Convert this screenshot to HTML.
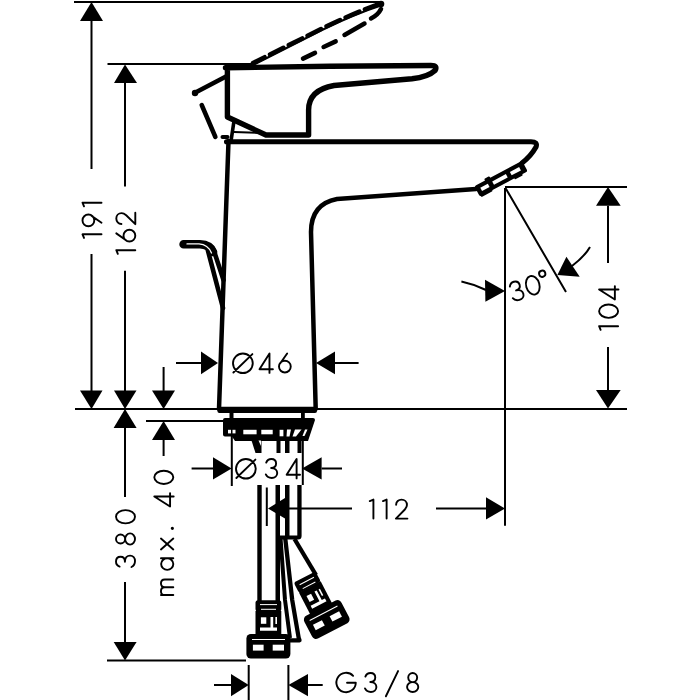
<!DOCTYPE html>
<html><head><meta charset="utf-8"><style>
html,body{margin:0;padding:0;background:#fff;width:700px;height:700px;overflow:hidden;font-family:"Liberation Sans",sans-serif}
svg{display:block}
</style></head><body>
<svg width="700" height="700" viewBox="0 0 700 700">
<g stroke="#000" stroke-width="2" fill="none">
  <path d="M74 2H381 M91.5 21V169 M91.5 254V391"/>
  <path d="M107.5 64H255 M125 83V186.4 M125 270.7V391"/>
  <path d="M75 409H627"/>
  <path d="M125 428V497 M125 582V642 M107 660.5H246"/>
  <path d="M163.6 367V391 M163.6 440V456 M146 421H223"/>
  <path d="M176 363H201 M335 363H358.6"/>
  <path d="M231.8 436V486 M302.8 440V485 M191.6 468.4H213 M321.6 468.4H342"/>
  <path d="M266.8 487.5V526 M285 508.5H352 M436 508.5H486 M505 188V525.7"/>
  <path d="M505 187H627 M608 205.7V263 M608 347V390"/>
  <path d="M505.5 188L566 292 M590 247Q585 256 572 266 M461.4 281.4Q474 284 486 290"/>
  <path d="M248.7 665V700 M288.4 665V700 M214 685H231 M308 685H322.7"/>
</g>
<g fill="#000">
  <polygon points="91.5,2 80,21 103,21"/>
  <polygon points="91.5,409 80,390.5 102.5,390.5"/>
  <polygon points="125,64.5 114,83 137,83"/>
  <polygon points="125,409 114,390.5 136.5,390.5"/>
  <polygon points="125,409 113.6,428 136.6,428"/>
  <polygon points="125,660.5 113.7,642 136.6,642"/>
  <polygon points="163.6,409 152,390.5 175,390.5"/>
  <polygon points="163.6,421 152,440 175,440"/>
  <polygon points="218,363 201,351.4 201,374.3"/>
  <polygon points="316,363 335,351.4 335,374.3"/>
  <polygon points="231.6,468.4 213,457.2 213,479.5"/>
  <polygon points="302,468.4 321.6,457.2 321.6,479.5"/>
  <polygon points="268,508.5 285,498 285,518.6"/>
  <polygon points="505,508.5 486,497.3 486,519.5"/>
  <polygon points="608,187 596,205.7 620.7,205.7"/>
  <polygon points="608,408.6 596,390 620.7,390"/>
  <polygon points="248.7,685 231,674 231,696.3"/>
  <polygon points="288.4,685 308,674 308,696.3"/>
  <polygon points="505,291 485,279.7 485.4,301.8"/>
  <polygon points="557.4,275 566.4,256.8 579.7,276.7"/>
</g>
<g fill="none" stroke="#000" stroke-linecap="round" stroke-linejoin="round">
<g transform="translate(233 353.5) scale(0.95 0.95)" stroke-width="2.0"><path transform="translate(0 0)" d="M10.4 0A10.4 10.3 0 1 0 10.4 20.6A10.4 10.3 0 1 0 10.4 0M0.4 20L20.4 0.6"/><path transform="translate(27.6 0)" d="M10.8 20.4V0L0.3 16.6H14.4"/><path transform="translate(48.4 0)" d="M8.6 0L1.2 10.6M0 13.8A6.2 6.2 0 1 0 12.4 13.8A6.2 6.2 0 1 0 0 13.8"/></g>
<g transform="translate(236 459) scale(0.95 0.95)" stroke-width="2.0"><path transform="translate(0 0)" d="M10.4 0A10.4 10.3 0 1 0 10.4 20.6A10.4 10.3 0 1 0 10.4 0M0.4 20L20.4 0.6"/><path transform="translate(31.4 0)" d="M0.4 3.8C1.3 1.5 3.3 0 5.8 0C8.8 0 10.8 2 10.8 4.8C10.8 7.6 8.6 9.4 5.6 9.4C9.5 9.4 12 11.8 12 14.8C12 17.9 9.5 20 6.2 20C3.3 20 1.0 18.6 0 16.3"/><path transform="translate(53 0)" d="M10.8 20.4V0L0.3 16.6H14.4"/></g>
<g transform="translate(369.8 499.6) scale(0.95 0.95)" stroke-width="2.0"><path transform="translate(0 0)" d="M0 1.6L3.8 0V20"/><path transform="translate(13.9 0)" d="M0 1.6L3.8 0V20"/><path transform="translate(27.1 0)" d="M0.6 5.4C0.6 2.2 3.2 0 6.3 0C9.6 0 12 2.4 12 5.6C12 7.6 11 9 9.8 10.4L0.4 20H12.5"/></g>
<g transform="translate(336.4 673) scale(0.95 0.95)" stroke-width="2.0"><path transform="translate(0 0)" d="M17.6 3A10.2 10.2 0 1 0 20.4 10.2H11.2"/><path transform="translate(30.1 0)" d="M0.4 3.8C1.3 1.5 3.3 0 5.8 0C8.8 0 10.8 2 10.8 4.8C10.8 7.6 8.6 9.4 5.6 9.4C9.5 9.4 12 11.8 12 14.8C12 17.9 9.5 20 6.2 20C3.3 20 1.0 18.6 0 16.3"/><path transform="translate(52.1 0)" d="M0 24.5L12.8 -2"/><path transform="translate(74.3 0)" d="M6 0A4.7 4.8 0 1 0 6 9.6A4.7 4.8 0 1 0 6 0M6 9.6A5.9 5.2 0 1 0 6 20A5.9 5.2 0 1 0 6 9.6"/></g>
<g transform="translate(82.5 237.9) rotate(-90) scale(0.95 0.95)" stroke-width="2.0"><path transform="translate(0 0)" d="M0 1.6L3.8 0V20"/><path transform="translate(12.2 0)" d="M3.8 20L11.2 9.4M12.4 6.2A6.2 6.2 0 1 0 0 6.2A6.2 6.2 0 1 0 12.4 6.2"/><path transform="translate(33.2 0)" d="M0 1.6L3.8 0V20"/></g>
<g transform="translate(116.3 253.8) rotate(-90) scale(0.95 0.95)" stroke-width="2.0"><path transform="translate(0 0)" d="M0 1.6L3.8 0V20"/><path transform="translate(12.9 0)" d="M8.6 0L1.2 10.6M0 13.8A6.2 6.2 0 1 0 12.4 13.8A6.2 6.2 0 1 0 0 13.8"/><path transform="translate(30.8 0)" d="M0.6 5.4C0.6 2.2 3.2 0 6.3 0C9.6 0 12 2.4 12 5.6C12 7.6 11 9 9.8 10.4L0.4 20H12.5"/></g>
<g transform="translate(599.1 329.8) rotate(-90) scale(0.95 0.95)" stroke-width="2.0"><path transform="translate(0 0)" d="M0 1.6L3.8 0V20"/><path transform="translate(12.6 0)" d="M7 0A7 10 0 1 0 7 20A7 10 0 1 0 7 0"/><path transform="translate(31.6 0)" d="M10.8 20.4V0L0.3 16.6H14.4"/></g>
<g transform="translate(116 567) rotate(-90) scale(0.95 0.95)" stroke-width="2.0"><path transform="translate(0 0)" d="M0.4 3.8C1.3 1.5 3.3 0 5.8 0C8.8 0 10.8 2 10.8 4.8C10.8 7.6 8.6 9.4 5.6 9.4C9.5 9.4 12 11.8 12 14.8C12 17.9 9.5 20 6.2 20C3.3 20 1.0 18.6 0 16.3"/><path transform="translate(23.5 0)" d="M6 0A4.7 4.8 0 1 0 6 9.6A4.7 4.8 0 1 0 6 0M6 9.6A5.9 5.2 0 1 0 6 20A5.9 5.2 0 1 0 6 9.6"/><path transform="translate(45.9 0)" d="M7 0A7 10 0 1 0 7 20A7 10 0 1 0 7 0"/></g>
<g transform="translate(154.3 596) rotate(-90) scale(0.95 0.95)" stroke-width="2.0"><path transform="translate(0 0)" d="M1 20V7M1 11C1 8.5 2.9 7 5.1 7C7.5 7 9.2 8.5 9.2 11V20M9.2 11C9.2 8.5 11.1 7 13.3 7C15.7 7 17.4 8.5 17.4 11V20"/><path transform="translate(27.4 0)" d="M12.4 7V20M6.2 7.2A6.1 6.4 0 1 0 6.2 20A6.1 6.4 0 1 0 6.2 7.2"/><path transform="translate(48.5 0)" d="M0.5 7L12 20M12 7L0.5 20"/><path transform="translate(70.2 0)" d="M1 18.3A0.7 0.7 0 1 0 1 19.7A0.7 0.7 0 1 0 1 18.3"/><path transform="translate(93.9 0)" d="M10.8 20.4V0L0.3 16.6H14.4"/><path transform="translate(117.9 0)" d="M7 0A7 10 0 1 0 7 20A7 10 0 1 0 7 0"/></g>
<g transform="translate(508.5 283.3) rotate(-16) scale(0.95 0.95)" stroke-width="2.0"><path transform="translate(0 0)" d="M0.4 3.8C1.3 1.5 3.3 0 5.8 0C8.8 0 10.8 2 10.8 4.8C10.8 7.6 8.6 9.4 5.6 9.4C9.5 9.4 12 11.8 12 14.8C12 17.9 9.5 20 6.2 20C3.3 20 1.0 18.6 0 16.3"/><path transform="translate(17.0 -0.9)" d="M7 0A7 10 0 1 0 7 20A7 10 0 1 0 7 0"/><path transform="translate(33.5 -1.0)" d="M3.4 -2.2A3.3 3.3 0 1 0 3.4 4.4A3.3 3.3 0 1 0 3.4 -2.2"/></g>
</g>
<g stroke="#000" stroke-width="4.5" fill="none" stroke-linejoin="round" stroke-linecap="round">
  <!-- body -->
  <path d="M228.5 141L219 409"/>
  <path d="M226.5 141.7H531Q538 141.7 536 147Q531 156 522 163" stroke-width="5.1"/>
  <path d="M476 189L337 199Q311 204 311 232L315.7 409"/>
  <!-- lever -->
  <path d="M225.5 67.8L330 66.3L431 65.5Q438 65.5 435 70.5Q428 77 412 78.8L334 85.5Q308.6 90 308.6 110V135H266L227.4 117V67.8" stroke-width="5.4"/>
  <path d="M234 121L231 141" stroke-width="3.6"/>
  <path d="M234 132L262 133" stroke-width="2"/>
  <!-- lever dashed positions -->
  <path d="M222.5 137H227.5" stroke-width="4"/>
  <path d="M215.4 137L201.7 105"/>
  <path d="M194.5 93L226 76.5"/>
  <circle cx="195" cy="93" r="3.2" fill="#000" stroke="none"/>
  <path d="M254 64.5L322 30Q356 13.5 381 5.5" stroke-width="2.2"/>
  <path d="M253 63L322 28.5Q356 12 381 3.5" stroke-dasharray="15 6" stroke-dashoffset="2" stroke-width="4.5"/>
  <circle cx="381" cy="4" r="3.3" fill="#000" stroke="none"/>
  <path d="M381 9Q378 15 371 18.5 M364.5 23.5L344.5 35 M335.7 41.4L323.6 47 M315 52.9L303 58.6" stroke-width="4.5"/>
  <!-- popup rod -->
  <path d="M183.6 244.2H200Q210 244.5 213 252" stroke-width="8.6"/>
  <path d="M207.5 249L223 308" stroke-width="4.6"/>
  <path d="M211 246.5Q214 249 215 254L223.5 280" stroke-width="4.6"/>
  <path d="M187 243.9H199Q208 244.5 211.5 253" stroke="#fff" stroke-width="1.3"/>
</g>
<!-- aerator -->
<g transform="translate(501 178.75) rotate(-28)">
  <rect x="-27" y="-6" width="54" height="12" rx="2" fill="#000"/>
  <rect x="-15" y="-7.8" width="6" height="3" rx="1" fill="#000"/>
  <rect x="-26" y="4" width="13" height="3" rx="1" fill="#000"/>
  <rect x="12" y="4" width="9" height="3.3" rx="1" fill="#000"/>
  <rect x="-22.5" y="-1.8" width="8.5" height="3.8" fill="#fff"/>
  <rect x="-9" y="-1.8" width="15.5" height="3.8" fill="#fff"/>
  <rect x="11" y="-1.8" width="10.5" height="3.8" fill="#fff"/>
</g>
<!-- base band + nut -->
<g fill="#000">
  <path d="M217.4 406.7H317V411Q317 413 315 413H219.4Q217.4 413 217.4 411Z"/>
  <rect x="229.5" y="412" width="4" height="7"/>
  <rect x="301" y="412" width="3.8" height="7"/>
  <path d="M223 420Q223 418 225 418H313Q315 418 315 420L308 441H235L232 436.5H225Q223 436.5 223 434.5Z"/>
</g>
<g fill="#fff">
  <rect x="228" y="429.8" width="3" height="3.6"/>
  <rect x="232.5" y="429.8" width="3" height="3.6"/>
  <rect x="243.3" y="429.8" width="13.3" height="4.5"/>
  <rect x="261.3" y="429.8" width="11.4" height="4.5"/>
  <rect x="279.6" y="429.8" width="3.8" height="6.5"/>
  <polygon points="287,429.5 291,429.5 289.5,436.5 286.5,436.5"/>
  <polygon points="295,429.5 301.5,429.5 296,436.5 292.5,436.5"/>
  <polygon points="305,429.5 307.5,429.5 304.5,436 302.5,436"/>
</g>
<!-- legs / hoses -->
<g fill="#000">
  <polygon points="251,439 261.5,439 261.5,453 255.5,453"/>
  <rect x="276.5" y="439" width="4" height="14"/>
  <rect x="285" y="439" width="4.5" height="14"/>
  <rect x="297.5" y="439" width="4" height="14"/>
  <rect x="257.3" y="485" width="4.4" height="116"/>
  <rect x="275.5" y="485" width="4.5" height="116"/>
  <rect x="285" y="485" width="4.5" height="53"/>
  <path d="M297.3 485H301.6V536Q301.6 539.6 298 539.6H280V535.6H297.3Z"/>
</g>
<g fill="none" stroke="#000" stroke-linejoin="round">
  <path d="M280.5 538L285 600L290 638" stroke-width="4"/>
  <path d="M285.2 538L292.2 600L298.7 638L299.5 640.3H290" stroke-width="4.3"/>
  <path d="M294.5 539L316 575" stroke-width="4.3"/>
</g>
<g fill="#fff"><polygon points="258.5,440.5 261,440.5 261,446"/></g>

  <rect x="255.5" y="600.2" width="25.8" height="11.2" rx="2.5" fill="#000"/>
  <path d="M260 604.6H277 M261 609.3H276" stroke="#fff" stroke-width="1" fill="none"/>
  <rect x="255.5" y="611" width="25.8" height="24" fill="#000"/>
  <rect x="260.9" y="617.3" width="5.4" height="6.5" fill="#fff"/>
  <path d="M270.5 617H273.2V627.5H277V630.7H260V627.5H270.5Z" fill="#fff"/>
  <rect x="275.4" y="617" width="1.6" height="7" fill="#fff"/>
  <rect x="246.4" y="634" width="44" height="24.6" rx="4.5" fill="#000"/>
  <path d="M252 639.5H285" stroke="#fff" stroke-width="1" fill="none"/>
  <rect x="252.9" y="644.7" width="10.7" height="5.9" fill="#fff"/>
  <rect x="272.7" y="644.7" width="11.3" height="5.9" fill="#fff"/>

<g transform="translate(304.6 577) rotate(-27.5) scale(0.95 1.04) translate(-268.4 -600.2)">

  <rect x="255.5" y="600.2" width="25.8" height="11.2" rx="2.5" fill="#000"/>
  <path d="M260 604.6H277 M261 609.3H276" stroke="#fff" stroke-width="1" fill="none"/>
  <rect x="255.5" y="611" width="25.8" height="24" fill="#000"/>
  <rect x="260.9" y="617.3" width="5.4" height="6.5" fill="#fff"/>
  <path d="M270.5 617H273.2V627.5H277V630.7H260V627.5H270.5Z" fill="#fff"/>
  <rect x="275.4" y="617" width="1.6" height="7" fill="#fff"/>
  <rect x="246.4" y="634" width="44" height="24.6" rx="4.5" fill="#000"/>
  <path d="M252 639.5H285" stroke="#fff" stroke-width="1" fill="none"/>
  <rect x="252.9" y="644.7" width="10.7" height="5.9" fill="#fff"/>
  <rect x="272.7" y="644.7" width="11.3" height="5.9" fill="#fff"/>

</g>
</svg>
</body></html>
